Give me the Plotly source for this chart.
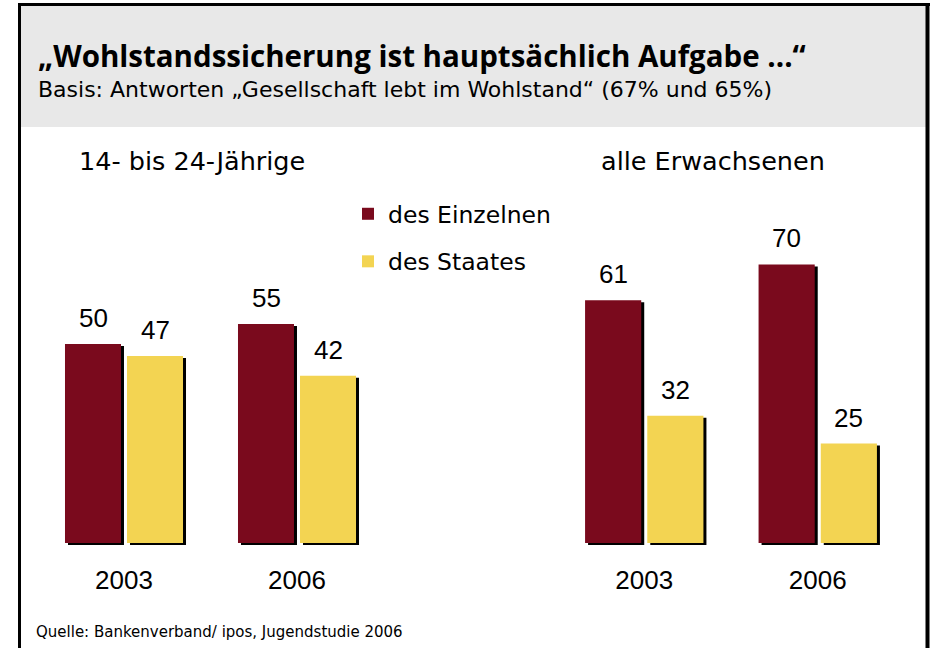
import plotly.graph_objects as go

W, H = 930, 648

years = ["2003", "2006"]
series_names = ["des Einzelnen", "des Staates"]
jugend_einzelnen = [50, 55]
jugend_staates = [47, 42]
erw_einzelnen = [61, 70]
erw_staates = [32, 25]

panel_titles = ["14- bis 24-Jährige", "alle Erwachsenen"]
title_text = "„Wohlstandssicherung ist hauptsächlich Aufgabe ...“"
subtitle_text = "Basis: Antworten „Gesellschaft lebt im Wohlstand“ (67% und 65%)"
source_text = "Quelle: Bankenverband/ ipos, Jugendstudie 2006"

MAROON = "#7a0a1d"
YELLOW = "#f3d452"
HEADER = "#e8e8e8"
TFONT = "Open Sans"
FONT = "DejaVu Sans"
NUMFONT = "Liberation Sans, Arial"

def px(x):
    return x / W

def py(y_from_top):
    return 1 - y_from_top / H

# pixel geometry
left_dom = (37.5, 383.5)
right_dom = (557.5, 904.5)
y_bottom, y_top = 543, 145
sx, sy = 3, 2  # shadow offset

fig = go.Figure()

panels = [
    (jugend_einzelnen, jugend_staates),
    (erw_einzelnen, erw_staates),
]

# shadows on axes 1 and 2, real bars on axes 3 and 4 (drawn above)
for i, (a, b) in enumerate(panels):
    ax = "" if i == 0 else "2"
    for vals in (a, b):
        fig.add_trace(go.Bar(
            x=years, y=vals, marker=dict(color="black", line=dict(width=0)),
            xaxis="x" + ax, yaxis="y" + ax, showlegend=False, hoverinfo="skip",
        ))
for i, (a, b) in enumerate(panels):
    ax = str(i + 3)
    for name, vals, col in zip(series_names, (a, b), (MAROON, YELLOW)):
        fig.add_trace(go.Bar(
            x=years, y=vals, name=name, marker=dict(color=col, line=dict(width=0)),
            xaxis="x" + ax, yaxis="y" + ax, showlegend=(i == 0),
            legendgroup=name,
        ))

def xaxis(dom, show):
    return dict(
        domain=[px(dom[0]), px(dom[1])], range=[-0.5, 1.5], type="category",
        showgrid=False, zeroline=False, showline=False, ticks="",
        showticklabels=show, tickfont=dict(family=NUMFONT, size=26, color="black"),
        ticklabelstandoff=19, fixedrange=True,
    )

def yaxis(b, t, anchor):
    return dict(
        domain=[py(b), py(t)], range=[0, 100], visible=False, anchor=anchor,
        fixedrange=True,
    )

fig.update_layout(
    xaxis=xaxis((left_dom[0] + sx, left_dom[1] + sx), False) | dict(anchor="y"),
    yaxis=yaxis(y_bottom + sy, y_top + sy, "x"),
    xaxis2=xaxis((right_dom[0] + sx, right_dom[1] + sx), False) | dict(anchor="y2"),
    yaxis2=yaxis(y_bottom + sy, y_top + sy, "x2"),
    xaxis3=xaxis(left_dom, True) | dict(anchor="y3"),
    yaxis3=yaxis(y_bottom, y_top, "x3"),
    xaxis4=xaxis(right_dom, True) | dict(anchor="y4"),
    yaxis4=yaxis(y_bottom, y_top, "x4"),
)

# value labels (x given as category index on the category axis)
slot_half = 31
annotations = []
for i, (a, b) in enumerate(panels):
    ax = str(i + 3)
    for vals, shift in ((a, -slot_half), (b, slot_half)):
        for j, v in enumerate(vals):
            annotations.append(dict(
                x=j, y=v, xref="x" + ax, yref="y" + ax, text=str(v),
                showarrow=False, xshift=shift, yshift=9, yanchor="bottom",
                font=dict(family=NUMFONT, size=26, color="black"),
            ))

# titles and text
annotations += [
    dict(x=px(36), y=py(56), xref="paper", yref="paper", text="<b>" + title_text + "</b>",
         showarrow=False, xanchor="left", yanchor="middle",
         font=dict(family=TFONT, size=29.5, color="black")),
    dict(x=px(36), y=py(89), xref="paper", yref="paper", text=subtitle_text,
         showarrow=False, xanchor="left", yanchor="middle",
         font=dict(family=FONT, size=22, color="black")),
    dict(x=px(192), y=py(161), xref="paper", yref="paper", text=panel_titles[0],
         showarrow=False, xanchor="center", yanchor="middle",
         font=dict(family=FONT, size=25.5, color="black")),
    dict(x=px(713), y=py(161), xref="paper", yref="paper", text=panel_titles[1],
         showarrow=False, xanchor="center", yanchor="middle",
         font=dict(family=FONT, size=25.5, color="black")),
    dict(x=px(34), y=py(632), xref="paper", yref="paper", text=source_text,
         showarrow=False, xanchor="left", yanchor="middle",
         font=dict(family=FONT, size=15, color="black")),
]

shapes = [
    dict(type="rect", xref="paper", yref="paper", x0=px(21), x1=px(926), y0=py(127), y1=py(5),
         fillcolor=HEADER, line=dict(width=0), layer="below"),
    dict(type="line", xref="paper", yref="paper", x0=px(19.5), x1=px(19.5), y0=py(3.5), y1=py(660),
         line=dict(color="black", width=3)),
    dict(type="line", xref="paper", yref="paper", x0=px(18), x1=px(930), y0=py(4.5), y1=py(4.5),
         line=dict(color="black", width=3)),
    dict(type="line", xref="paper", yref="paper", x0=px(927.5), x1=px(927.5), y0=py(3), y1=py(660),
         line=dict(color="black", width=4)),
]

fig.update_layout(
    width=W, height=H, margin=dict(l=0, r=0, t=0, b=0),
    paper_bgcolor="white", plot_bgcolor="rgba(0,0,0,0)",
    barmode="group", bargap=0.283, bargroupgap=0.097,
    annotations=annotations, shapes=shapes,
    showlegend=True,
    legend=dict(x=px(348), y=py(192), xanchor="left", yanchor="top",
                font=dict(family=FONT, size=23.5, color="black"),
                bgcolor="rgba(0,0,0,0)", tracegroupgap=14, traceorder="grouped",
                itemclick=False, itemdoubleclick=False),
    hovermode=False,
)

fig.write_html(
    "out.html",
    config={"displayModeBar": False},
    post_script="document.body.style.margin='0px';document.body.style.overflow='hidden';",
)
